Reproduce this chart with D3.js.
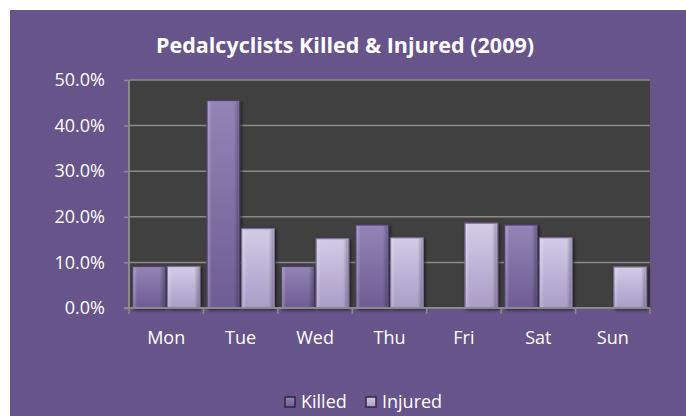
<!DOCTYPE html>
<html>
<head>
<meta charset="utf-8">
<script src="https://cdn.jsdelivr.net/npm/d3@7"></script>
<style>
  body { margin: 0; background: #fff; }
  text { font-family: "Open Sans", sans-serif; fill: #fff; }
</style>
</head>
<body>
<svg id="chart" width="686" height="416"></svg>
<script>
// chart data
const days = ["Mon", "Tue", "Wed", "Thu", "Fri", "Sat", "Sun"];
const killed = [9.1, 45.5, 9.1, 18.2, 0, 18.2, 0];
const injured = [9.1, 17.4, 15.2, 15.4, 18.6, 15.4, 9.0];
const seriesNames = ["Killed", "Injured"];
const yTicks = [0, 10, 20, 30, 40, 50];

const svg = d3.select("#chart");
const margin = { left: 129, right: 36, top: 80, bottom: 108 };
const width = 686 - margin.left - margin.right;
const height = 416 - margin.top - margin.bottom;

// gradients for the bevelled bars
const defs = svg.append("defs");
const fills = [["killed", "#9384b6", "#6d5d93"], ["injured", "#d4cbe7", "#a99dc6"]];
fills.forEach(([id, top, bottom]) => {
    const g = defs.append("linearGradient").attr("id", "grad-" + id)
        .attr("x1", 0).attr("x2", 0).attr("y1", 0).attr("y2", 1);
    g.append("stop").attr("offset", "0%").attr("stop-color", top);
    g.append("stop").attr("offset", "100%").attr("stop-color", bottom);
});
const shade = defs.append("linearGradient").attr("id", "bevel")
    .attr("x1", 0).attr("x2", 1).attr("y1", 0).attr("y2", 0);
shade.append("stop").attr("offset", "0%").attr("stop-color", "#fff").attr("stop-opacity", 0.25);
shade.append("stop").attr("offset", "12%").attr("stop-color", "#fff").attr("stop-opacity", 0);
shade.append("stop").attr("offset", "85%").attr("stop-color", "#000").attr("stop-opacity", 0);
shade.append("stop").attr("offset", "100%").attr("stop-color", "#000").attr("stop-opacity", 0.25);
const shadow = defs.append("filter").attr("id", "shadow")
    .attr("x", "-20%").attr("y", "-20%").attr("width", "150%").attr("height", "150%");
shadow.append("feDropShadow").attr("dx", 1.5).attr("dy", 1.5)
    .attr("stdDeviation", 1.5).attr("flood-color", "#000").attr("flood-opacity", 0.6);

// purple panel
svg.append("rect").attr("x", 10).attr("y", 10).attr("width", 676).attr("height", 406)
    .attr("fill", "#66548a");

svg.append("text").attr("x", 345).attr("y", 53).attr("text-anchor", "middle")
    .style("font-size", "21.5px").style("font-weight", "bold")
    .text("Pedalcyclists Killed & Injured (2009)");

const g = svg.append("g").attr("transform", `translate(${margin.left},${margin.top})`);

g.append("rect").attr("width", width).attr("height", height).attr("fill", "#404040");

const x = d3.scaleBand().domain(days).range([0, width]).paddingInner(0).paddingOuter(0);
const x1 = d3.scaleBand().domain(seriesNames).range([0, x.bandwidth()])
    .paddingInner(0.06).paddingOuter(0.1);
const y = d3.scaleLinear().domain([0, 50]).range([height, 0]);

// gridlines
g.append("g").selectAll("line").data(yTicks.slice(1)).join("line")
    .attr("x1", 0).attr("x2", width)
    .attr("y1", d => y(d)).attr("y2", d => y(d))
    .attr("stroke", "#8a8a8a").attr("stroke-width", 1.5);

// bars
const rows = days.map((d, i) => ({ day: d, values: [killed[i], injured[i]] }));
const groups = g.append("g").selectAll("g").data(rows).join("g")
    .attr("transform", d => `translate(${x(d.day)},0)`);
const bars = groups.selectAll("g").data(d => d.values.map((v, j) => ({ name: seriesNames[j], v })))
    .join("g").filter(d => d.v > 0);
bars.append("rect")
    .attr("x", d => x1(d.name)).attr("width", x1.bandwidth())
    .attr("y", d => y(d.v)).attr("height", d => y(0) - y(d.v))
    .attr("fill", d => d.name === "Killed" ? "url(#grad-killed)" : "url(#grad-injured)")
    .attr("stroke", d => d.name === "Killed" ? "#4d406b" : "#7d7099")
    .attr("stroke-width", 1.2)
    .attr("filter", "url(#shadow)");
bars.append("rect")
    .attr("x", d => x1(d.name) + 1).attr("width", x1.bandwidth() - 2)
    .attr("y", d => y(d.v) + 1).attr("height", d => y(0) - y(d.v) - 2)
    .attr("fill", "url(#bevel)");

// axes
const yAxis = g.append("g").call(d3.axisLeft(y).tickValues(yTicks)
    .tickFormat(d => d.toFixed(1) + "%").tickSize(5).tickPadding(19));
const xAxis = g.append("g").attr("transform", `translate(0,${height})`)
    .call(d3.axisBottom(x).tickSize(0).tickPadding(23));
[yAxis, xAxis].forEach(a => {
    a.select(".domain").attr("stroke", "#8a8a8a").attr("stroke-width", 2);
    a.selectAll("line").attr("stroke", "#8a8a8a").attr("stroke-width", 1.5);
    a.selectAll("text").style("font-size", "18px").attr("fill", "#fff");
});
yAxis.select(".domain").attr("d", `M0,0V${height}`);
xAxis.select(".domain").attr("d", `M-5,0H${width}`);
// tick marks at category boundaries
g.append("g").selectAll("line").data(d3.range(days.length + 1)).join("line")
    .attr("x1", i => i * x.step()).attr("x2", i => i * x.step())
    .attr("y1", height).attr("y2", height + 6)
    .attr("stroke", "#8a8a8a").attr("stroke-width", 1.5);

// legend
const legend = svg.append("g").attr("transform", "translate(285,402)");
const legendX = [0, 81];
seriesNames.forEach((name, i) => {
    const lg = legend.append("g").attr("transform", `translate(${legendX[i]},0)`);
    lg.append("rect").attr("x", 0).attr("y", -5).attr("width", 10).attr("height", 10)
        .attr("fill", i === 0 ? "url(#grad-killed)" : "url(#grad-injured)")
        .attr("stroke", "#2e2840").attr("stroke-width", 1.5);
    lg.append("text").attr("x", 16).attr("y", 6).style("font-size", "18px").text(name);
});
</script>
</body>
</html>
